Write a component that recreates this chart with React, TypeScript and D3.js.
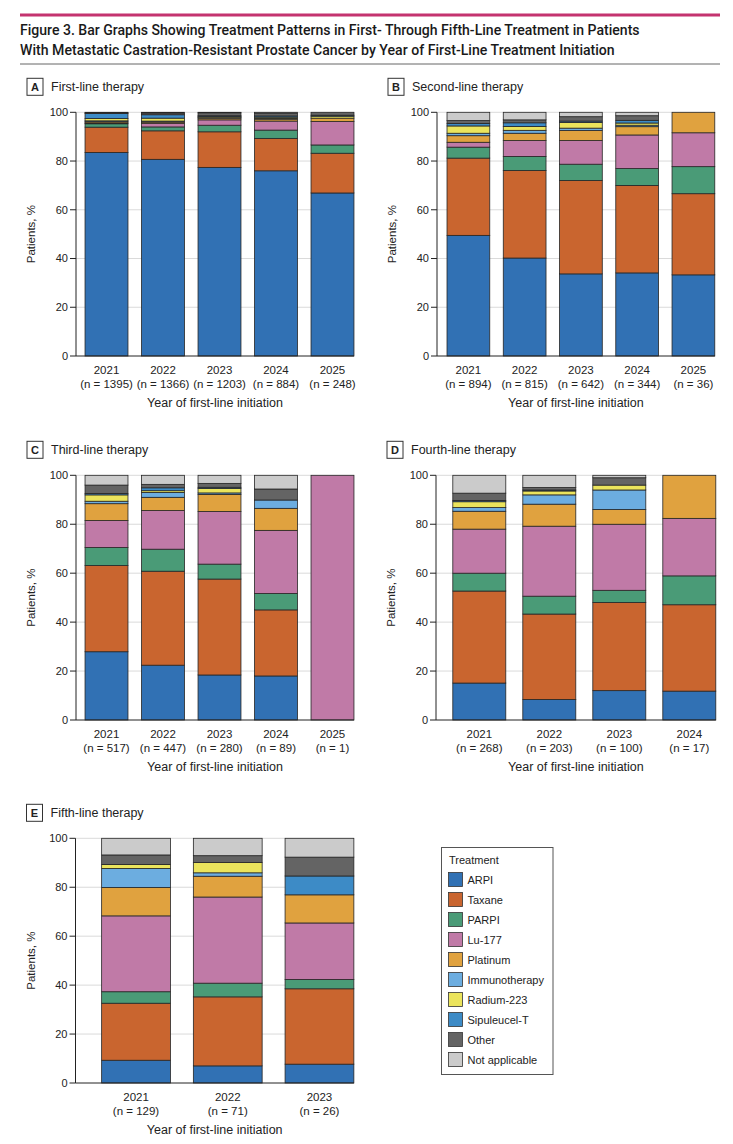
import React, { useLayoutEffect, useRef, useState } from "react";
import * as d3 from "d3";

// ---------- DATA ----------
const treatments = [
  "ARPI",
  "Taxane",
  "PARPI",
  "Lu-177",
  "Platinum",
  "Immunotherapy",
  "Radium-223",
  "Sipuleucel-T",
  "Other",
  "Not applicable",
];
const treatmentColors = [
  "#3171b4",
  "#c9652f",
  "#4a9b77",
  "#c07aa7",
  "#e0a23f",
  "#6cade0",
  "#ebe45c",
  "#3d8bc6",
  "#646464",
  "#cbcbcb",
];

// Panel A – first-line therapy (% per year; columns follow `treatments`)
const yearsA = ["2021", "2022", "2023", "2024", "2025"];
const countsA = [1395, 1366, 1203, 884, 248];
const valuesA = [
  [83.5, 10.4, 1.4, 0.3, 0.5, 0.4, 1.0, 2.0, 0.3, 0.2],
  [80.7, 11.7, 1.6, 1.5, 0.5, 0.4, 1.2, 1.4, 0.7, 0.3],
  [77.4, 14.6, 2.7, 2.2, 0.7, 0.2, 0.5, 0.3, 1.2, 0.2],
  [76.0, 13.3, 3.4, 3.7, 0.8, 0.3, 0.5, 0.5, 1.1, 0.4],
  [66.9, 16.3, 3.4, 9.6, 1.4, 0.0, 0.8, 0.4, 1.2, 0.0],
];

// Panel B – second-line therapy
const yearsB = ["2021", "2022", "2023", "2024", "2025"];
const countsB = [894, 815, 642, 344, 36];
const valuesB = [
  [49.5, 31.7, 4.5, 2.0, 2.7, 1.0, 3.0, 1.0, 1.2, 3.4],
  [40.2, 35.9, 5.8, 6.5, 3.0, 1.2, 1.6, 1.5, 1.2, 3.1],
  [33.7, 38.3, 6.7, 9.7, 4.1, 1.0, 2.3, 0.6, 1.8, 1.8],
  [34.1, 35.9, 6.9, 13.8, 3.4, 0.6, 0.9, 1.1, 1.9, 1.4],
  [33.3, 33.3, 11.1, 13.9, 8.4, 0, 0, 0, 0, 0],
];

// Panel C – third-line therapy
const yearsC = ["2021", "2022", "2023", "2024", "2025"];
const countsC = [517, 447, 280, 89, 1];
const valuesC = [
  [27.9, 35.2, 7.4, 11.0, 6.9, 1.0, 2.6, 0.6, 3.4, 4.0],
  [22.4, 38.4, 9.0, 15.8, 5.4, 2.0, 0.7, 1.2, 1.4, 3.7],
  [18.4, 39.2, 6.1, 21.5, 7.0, 0.6, 1.8, 0.5, 1.6, 3.3],
  [18.0, 27.0, 6.7, 25.8, 9.0, 3.4, 0, 0, 4.5, 5.6],
  [0, 0, 0, 100, 0, 0, 0, 0, 0, 0],
];

// Panel D – fourth-line therapy
const yearsD = ["2021", "2022", "2023", "2024"];
const countsD = [268, 203, 100, 17];
const valuesD = [
  [15.1, 37.6, 7.3, 18.0, 7.3, 1.5, 2.4, 0.5, 3.0, 7.3],
  [8.4, 34.9, 7.3, 28.6, 9.0, 3.8, 1.6, 0.4, 1.0, 5.0],
  [12.0, 36.0, 5.0, 27.0, 6.0, 8.0, 2.0, 0, 3.0, 1.0],
  [11.8, 35.3, 11.8, 23.5, 17.6, 0, 0, 0, 0, 0],
];

// Panel E – fifth-line therapy
const yearsE = ["2021", "2022", "2023"];
const countsE = [129, 71, 26];
const valuesE = [
  [9.3, 23.3, 4.7, 31.0, 11.6, 7.8, 1.6, 0, 3.9, 6.8],
  [7.0, 28.2, 5.6, 35.2, 8.5, 1.4, 4.2, 0, 2.8, 7.1],
  [7.7, 30.8, 3.8, 23.1, 11.5, 0, 0, 7.7, 7.7, 7.7],
];

const yTicks = [0, 20, 40, 60, 80, 100];
const titleLines = [
  "Figure 3. Bar Graphs Showing Treatment Patterns in First- Through Fifth-Line Treatment in Patients",
  "With Metastatic Castration-Resistant Prostate Cancer by Year of First-Line Treatment Initiation",
];

// ---------- LAYOUT ----------
const FONT = "'Liberation Sans', Arial, sans-serif";
const TITLE_FONT = "Roboto, 'Liberation Sans', sans-serif";
const TEXT = "#222";

type PanelProps = {
  letter: string;
  title: string;
  years: string[];
  counts: number[];
  values: number[][];
  axisX: number;
  right: number;
  top: number;
  bottom: number;
  padInner: number;
  padOuter: number;
};

function Panel(p: PanelProps) {
  const x = d3
    .scaleBand<string>()
    .domain(p.years)
    .range([p.axisX, p.right])
    .paddingInner(p.padInner)
    .paddingOuter(p.padOuter);
  const y = d3.scaleLinear().domain([0, 100]).range([p.bottom, p.top]);
  const rows = p.years.map((yr, i) => {
    const r: any = { year: yr };
    treatments.forEach((t, j) => (r[t] = p.values[i][j]));
    return r;
  });
  const series = d3.stack<any>().keys(treatments)(rows);
  const lastEnd = (x(p.years[p.years.length - 1]) as number) + x.bandwidth();
  const midX = (p.axisX + lastEnd) / 2;

  return (
    <g>
      <rect x={p.axisX - 49} y={p.top - 34} width={16} height={17} fill="#fff" stroke="#333" strokeWidth={1} />
      <text x={p.axisX - 41} y={p.top - 21.5} textAnchor="middle" fontFamily={FONT} fontWeight="bold" fontSize={11} fill={TEXT}>
        {p.letter}
      </text>
      <text x={p.axisX - 25} y={p.top - 21} fontFamily={FONT} fontSize={12.5} fill={TEXT}>
        {p.title}
      </text>

      {yTicks.filter((t) => t > 0).map((t) => (
        <line key={"g" + t} x1={p.axisX} x2={lastEnd} y1={y(t)} y2={y(t)} stroke="#dadada" strokeWidth={1} />
      ))}

      {series.map((s, si) => (
        <g key={s.key} fill={treatmentColors[si]}>
          {s.map((d, di) =>
            d[1] - d[0] > 0 ? (
              <rect
                key={di}
                x={x(d.data.year)}
                y={y(d[1])}
                width={x.bandwidth()}
                height={y(d[0]) - y(d[1])}
                stroke="#262626"
                strokeWidth={0.8}
              />
            ) : null
          )}
        </g>
      ))}

      <line x1={p.axisX} x2={p.axisX} y1={y(0)} y2={y(100)} stroke="#222" strokeWidth={1} />
      <line x1={p.axisX} x2={lastEnd} y1={y(0)} y2={y(0)} stroke="#222" strokeWidth={1} />
      {yTicks.map((t) => (
        <g key={"t" + t}>
          <line x1={p.axisX - 6} x2={p.axisX} y1={y(t)} y2={y(t)} stroke="#222" strokeWidth={1} />
          <text x={p.axisX - 8} y={y(t)} dy="0.35em" textAnchor="end" fontFamily={FONT} fontSize={11} fill={TEXT}>
            {t}
          </text>
        </g>
      ))}
      <text
        transform={`translate(${p.axisX - 41},${(p.top + p.bottom) / 2}) rotate(-90)`}
        textAnchor="middle"
        fontFamily={FONT}
        fontSize={11.5}
        fill={TEXT}
      >
        Patients, %
      </text>

      {p.years.map((yr, i) => {
        const cx = (x(yr) as number) + x.bandwidth() / 2;
        return (
          <g key={"x" + yr}>
            <text x={cx} y={p.bottom + 18} textAnchor="middle" fontFamily={FONT} fontSize={11.5} fill={TEXT}>
              {yr}
            </text>
            <text x={cx} y={p.bottom + 32} textAnchor="middle" fontFamily={FONT} fontSize={11.5} fill={TEXT}>
              {`(n = ${p.counts[i]})`}
            </text>
          </g>
        );
      })}
      <text x={midX} y={p.bottom + 51} textAnchor="middle" fontFamily={FONT} fontSize={12.5} fill={TEXT}>
        Year of first-line initiation
      </text>
    </g>
  );
}

function Legend() {
  const x0 = 441.5;
  const y0 = 847.5;
  return (
    <g>
      <rect x={x0} y={y0} width={111.5} height={227} fill="#fff" stroke="#555" strokeWidth={1} />
      <text x={x0 + 7.5} y={y0 + 16} fontFamily={FONT} fontSize={11} fill={TEXT}>
        Treatment
      </text>
      {treatments.map((t, i) => (
        <g key={t}>
          <rect x={x0 + 7} y={y0 + 25 + i * 20} width={14} height={14} fill={treatmentColors[i]} stroke="#333" strokeWidth={0.8} />
          <text x={x0 + 26} y={y0 + 36 + i * 20} fontFamily={FONT} fontSize={11} fill={TEXT}>
            {t}
          </text>
        </g>
      ))}
    </g>
  );
}

function TitleLine({ text, y, width }: { text: string; y: number; width: number }) {
  const ref = useRef<SVGTextElement>(null);
  const [sx, setSx] = useState(0.8);
  useLayoutEffect(() => {
    if (ref.current) {
      const w = ref.current.getComputedTextLength();
      if (w > 0) setSx(width / w);
    }
  }, [text, width]);
  return (
    <text
      ref={ref}
      transform={`translate(20,${y}) scale(${sx},1)`}
      fontFamily={TITLE_FONT}
      fontWeight={500}
      fontSize={14.5}
      fill="#1a1a1a"
    >
      {text}
    </text>
  );
}

export default function App() {
  return (
    <svg
      width={733}
      height={1144}
      viewBox="0 0 733 1144"
      style={{ position: "absolute", left: 0, top: 0, background: "#fff", display: "block" }}
    >
      <rect x={0} y={0} width={733} height={1144} fill="#fff" />
      <line x1={20} x2={720} y1={15} y2={15} stroke="#c4336f" strokeWidth={3} />
      <TitleLine text={titleLines[0]} y={35} width={620} />
      <TitleLine text={titleLines[1]} y={54.5} width={595} />
      <line x1={20} x2={720} y1={64} y2={64} stroke="#666" strokeWidth={1} />

      <Panel letter="A" title="First-line therapy" years={yearsA} counts={countsA} values={valuesA}
        axisX={76} right={363} top={112.3} bottom={356} padInner={0.24} padOuter={0.16} />
      <Panel letter="B" title="Second-line therapy" years={yearsB} counts={countsB} values={valuesB}
        axisX={437} right={724.8} top={112.3} bottom={356} padInner={0.24} padOuter={0.178} />
      <Panel letter="C" title="Third-line therapy" years={yearsC} counts={countsC} values={valuesC}
        axisX={76} right={363} top={475.3} bottom={720} padInner={0.24} padOuter={0.16} />
      <Panel letter="D" title="Fourth-line therapy" years={yearsD} counts={countsD} values={valuesD}
        axisX={436} right={732.6} top={475.3} bottom={720} padInner={0.243} padOuter={0.24} />
      <Panel letter="E" title="Fifth-line therapy" years={yearsE} counts={countsE} values={valuesE}
        axisX={75.5} right={380} top={838.3} bottom={1083} padInner={0.25} padOuter={0.285} />
      <Legend />
    </svg>
  );
}
